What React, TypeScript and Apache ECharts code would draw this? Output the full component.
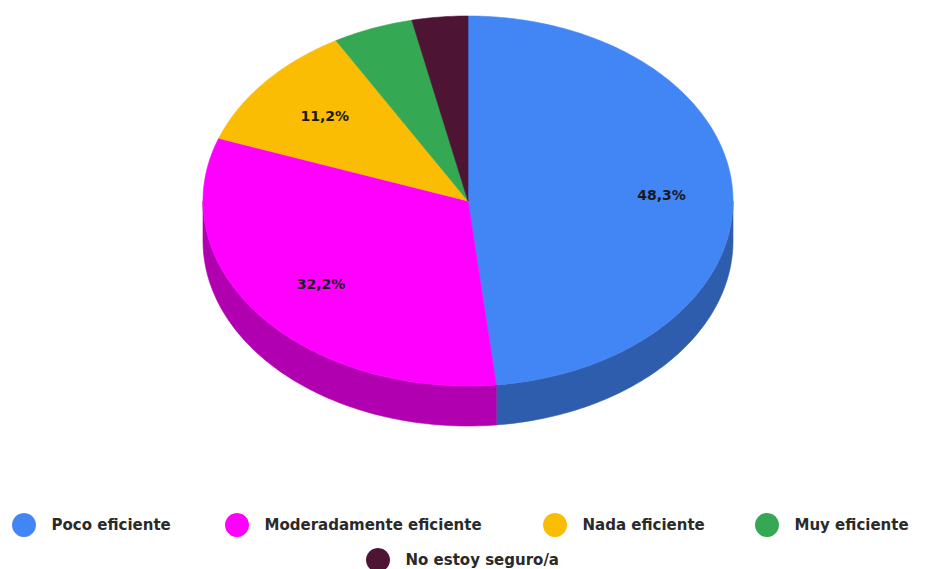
import React, { useEffect, useRef } from 'react';
import * as echarts from 'echarts';

// ---- data ----
const categories = [
  'Poco eficiente',
  'Moderadamente eficiente',
  'Nada eficiente',
  'Muy eficiente',
  'No estoy seguro/a',
];
const values = [48.3, 32.2, 11.2, 4.9, 3.4];

// ---- styles / layout ----
const topColors = ['#4285f4', '#ff00ff', '#fbbc04', '#34a853', '#4d1434'];
const sideColors = ['#2f5dad', '#b000b0', '#b08403', '#257639', '#360e24'];
const legendIconLeft = [12, 225, 543, 755, 366];
const legendCenterY = [525, 525, 525, 525, 560];

const CX = 468;
const CY = 201;
const RX = 265;
const RY = 185;
const DEPTH = 40;
const LABEL_R = 0.72;

const total = values.reduce((a, b) => a + b, 0);
const starts: number[] = [];
{
  let acc = 0;
  values.forEach((v) => {
    starts.push(acc);
    acc += v;
  });
}

const pt = (t: number, dy = 0): number[] => [CX + RX * Math.sin(t), CY - RY * Math.cos(t) + dy];
const arc = (s: number, e: number, dy: number): number[][] => {
  const n = Math.max(2, Math.ceil((e - s) / (Math.PI / 180)));
  const out: number[][] = [];
  for (let i = 0; i <= n; i++) out.push(pt(s + ((e - s) * i) / n, dy));
  return out;
};

const makeRender = (k: number) => (params: any, api: any) => {
  const v = api.value(0);
  const a0 = (starts[k] / total) * Math.PI * 2;
  const a1 = a0 + (v / total) * Math.PI * 2;
  const children: any[] = [];
  const fs = Math.max(a0, Math.PI / 2);
  const fe = Math.min(a1, (Math.PI * 3) / 2);
  if (fe > fs) {
    const top = arc(fs, fe, 0);
    const bot = arc(fs, fe, DEPTH).reverse();
    children.push({
      type: 'polygon',
      shape: { points: [...top, ...bot] },
      style: { fill: sideColors[k], stroke: sideColors[k], lineWidth: 0.6 },
    });
  }
  children.push({
    type: 'polygon',
    shape: { points: [[CX, CY], ...arc(a0, a1, 0)] },
    style: { fill: topColors[k], stroke: topColors[k], lineWidth: 0.6 },
  });
  if (v / total >= 0.08) {
    const mid = (a0 + a1) / 2;
    children.push({
      type: 'text',
      x: CX + RX * LABEL_R * Math.sin(mid) + 3,
      y: CY - RY * LABEL_R * Math.cos(mid) + 1,
      style: {
        text: v.toFixed(1).replace('.', ',') + '%',
        fill: '#1a1a1a',
        fontSize: 14,
        fontWeight: 'bold',
        fontFamily: 'DejaVu Sans',
        align: 'center',
        verticalAlign: 'middle',
      },
    });
  }
  return { type: 'group', children };
};

export default function App() {
  const ref = useRef<HTMLDivElement>(null);
  useEffect(() => {
    if (!ref.current) return;
    const chart = echarts.init(ref.current, undefined, { renderer: 'svg' });
    const option: any = {
      animation: false,
      backgroundColor: '#ffffff',
      legend: categories.map((name, k) => ({
        data: [name],
        icon: 'circle',
        left: legendIconLeft[k],
        top: legendCenterY[k] - 12,
        itemWidth: 45,
        itemHeight: 24,
        padding: 0,
        selectedMode: false,
        textStyle: { color: '#2a2a2a', fontSize: 15, fontWeight: 'bold', fontFamily: 'DejaVu Sans' },
      })),
      series: categories.map((name, k) => ({
        type: 'custom',
        name,
        coordinateSystem: 'none',
        itemStyle: { color: topColors[k] },
        data: [[values[k]]],
        renderItem: makeRender(k),
      })),
    };
    chart.setOption(option);
    return () => chart.dispose();
  }, []);
  return (
    <div
      ref={ref}
      style={{ position: 'fixed', left: 0, top: 0, width: 927, height: 569, background: '#fff' }}
    />
  );
}
